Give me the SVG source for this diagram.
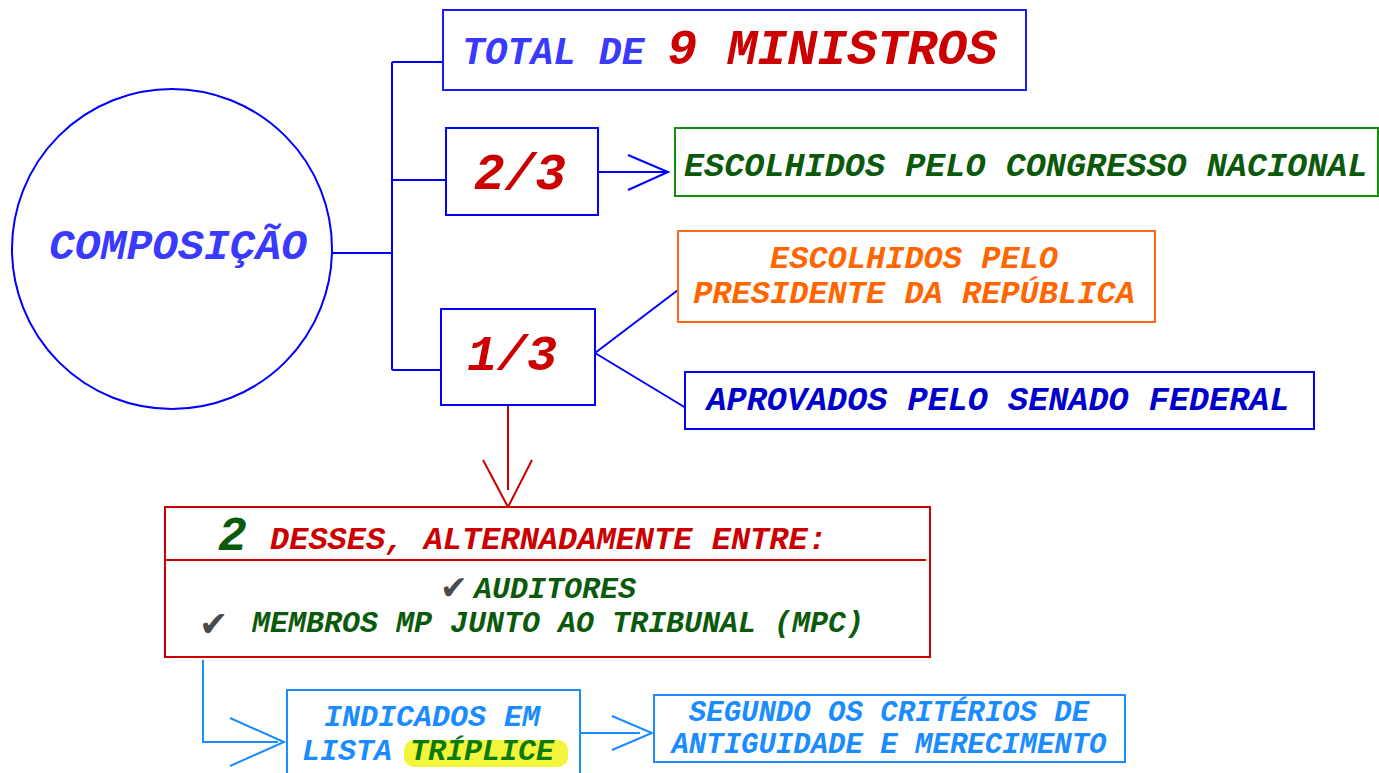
<svg xmlns="http://www.w3.org/2000/svg" width="1379" height="773" viewBox="0 0 1379 773">
<style>
text{font-family:"Liberation Mono","Courier New",monospace;font-weight:bold;font-style:italic}
.c{text-anchor:middle}
.blue{stroke:#0000ff;stroke-width:2;fill:none}
.bx{fill:#fff;stroke-width:2}
.chk{font-family:"DejaVu Sans",sans-serif;font-style:normal;fill:#4a4a4a}
</style>
<rect width="1379" height="773" fill="#fff"/>
<g id="connectors" fill="none" stroke-width="2">
<path class="blue" d="M332 253H392M392 62V370M392 62H443M392 180H446M392 370H441"/>
<path class="blue" d="M598 172H666M628 155L668 172L628 190"/>
<path class="blue" d="M595 353L678 290M595 353L686 408"/>
<path d="M508 405V490M483 460L508 507L532 460" stroke="#cc0000"/>
<path d="M203 660V742H278M230 718L284 742L230 766" stroke="#1a8cff"/>
<path d="M580 733H640M612 716L652 733L612 750" stroke="#1a8cff"/>
</g>
<g id="composicao">
<circle cx="172" cy="249" r="160" fill="#fff" stroke="#0000ff" stroke-width="2"/>
<text x="178" y="259" class="c" font-size="43" fill="#3a3aff">COMPOSIÇÃO</text>
</g>
<g id="total">
<rect x="443" y="10" width="583" height="80" class="bx" stroke="#1a1aff"/>
<text x="462" y="64" font-size="38" fill="#3a3aff">TOTAL DE <tspan font-size="50" fill="#cc0000">9 MINISTROS</tspan></text>
</g>
<g id="dois-tercos">
<rect x="446" y="128" width="152" height="87" class="bx" stroke="#0000ff"/>
<text x="520" y="189" class="c" font-size="51" fill="#cc0000">2/3</text>
</g>
<g id="congresso">
<rect x="675" y="128" width="703" height="68" class="bx" stroke="#109010"/>
<text x="684" y="176" font-size="33.5" fill="#0b5a0b">ESCOLHIDOS PELO CONGRESSO NACIONAL</text>
</g>
<g id="um-terco">
<rect x="441" y="309" width="154" height="96" class="bx" stroke="#0000ff"/>
<text x="512" y="370" class="c" font-size="50" fill="#cc0000">1/3</text>
</g>
<g id="presidente">
<rect x="678" y="231" width="477" height="91" class="bx" stroke="#ff6a13"/>
<text x="914" y="268" class="c" font-size="32" fill="#ff6600">ESCOLHIDOS PELO</text>
<text x="914" y="303" class="c" font-size="32" fill="#ff6600">PRESIDENTE DA REPÚBLICA</text>
</g>
<g id="senado">
<rect x="685" y="372" width="629" height="57" class="bx" stroke="#0000ff"/>
<text x="998" y="410" class="c" font-size="33.5" fill="#0000cc">APROVADOS PELO SENADO FEDERAL</text>
</g>
<g id="dois-desses">
<rect x="165" y="507" width="765" height="150" class="bx" stroke="#cc0000"/>
<path d="M165 560H926" stroke="#cc0000" stroke-width="2"/>
<text x="218" y="550" font-size="48" fill="#0b5a0b">2</text>
<text x="270" y="549" font-size="32" fill="#cc0000">DESSES, ALTERNADAMENTE ENTRE:</text>
<text x="440" y="599" class="chk" font-size="33">✔</text>
<text x="474" y="598" font-size="30" fill="#0b5a0b">AUDITORES</text>
<text x="199" y="636" class="chk" font-size="35">✔</text>
<text x="252" y="632" font-size="30" fill="#0b5a0b">MEMBROS MP JUNTO AO TRIBUNAL (MPC)</text>
</g>
<g id="lista">
<rect x="287" y="690" width="293" height="90" class="bx" stroke="#1a8cff"/>
<text x="432" y="726" class="c" font-size="30" fill="#1a8cff">INDICADOS EM</text>
<rect x="404" y="740" width="164" height="27" rx="10" fill="#f2f53a"/>
<text x="302" y="760" font-size="30" fill="#1a8cff">LISTA <tspan fill="#0b7a0b">TRÍPLICE</tspan></text>
</g>
<g id="criterios">
<rect x="654" y="695" width="471" height="67" class="bx" stroke="#1a8cff"/>
<text x="889" y="721" class="c" font-size="29" fill="#1a8cff">SEGUNDO OS CRITÉRIOS DE</text>
<text x="889" y="753" class="c" font-size="29" fill="#1a8cff">ANTIGUIDADE E MERECIMENTO</text>
</g>
</svg>
